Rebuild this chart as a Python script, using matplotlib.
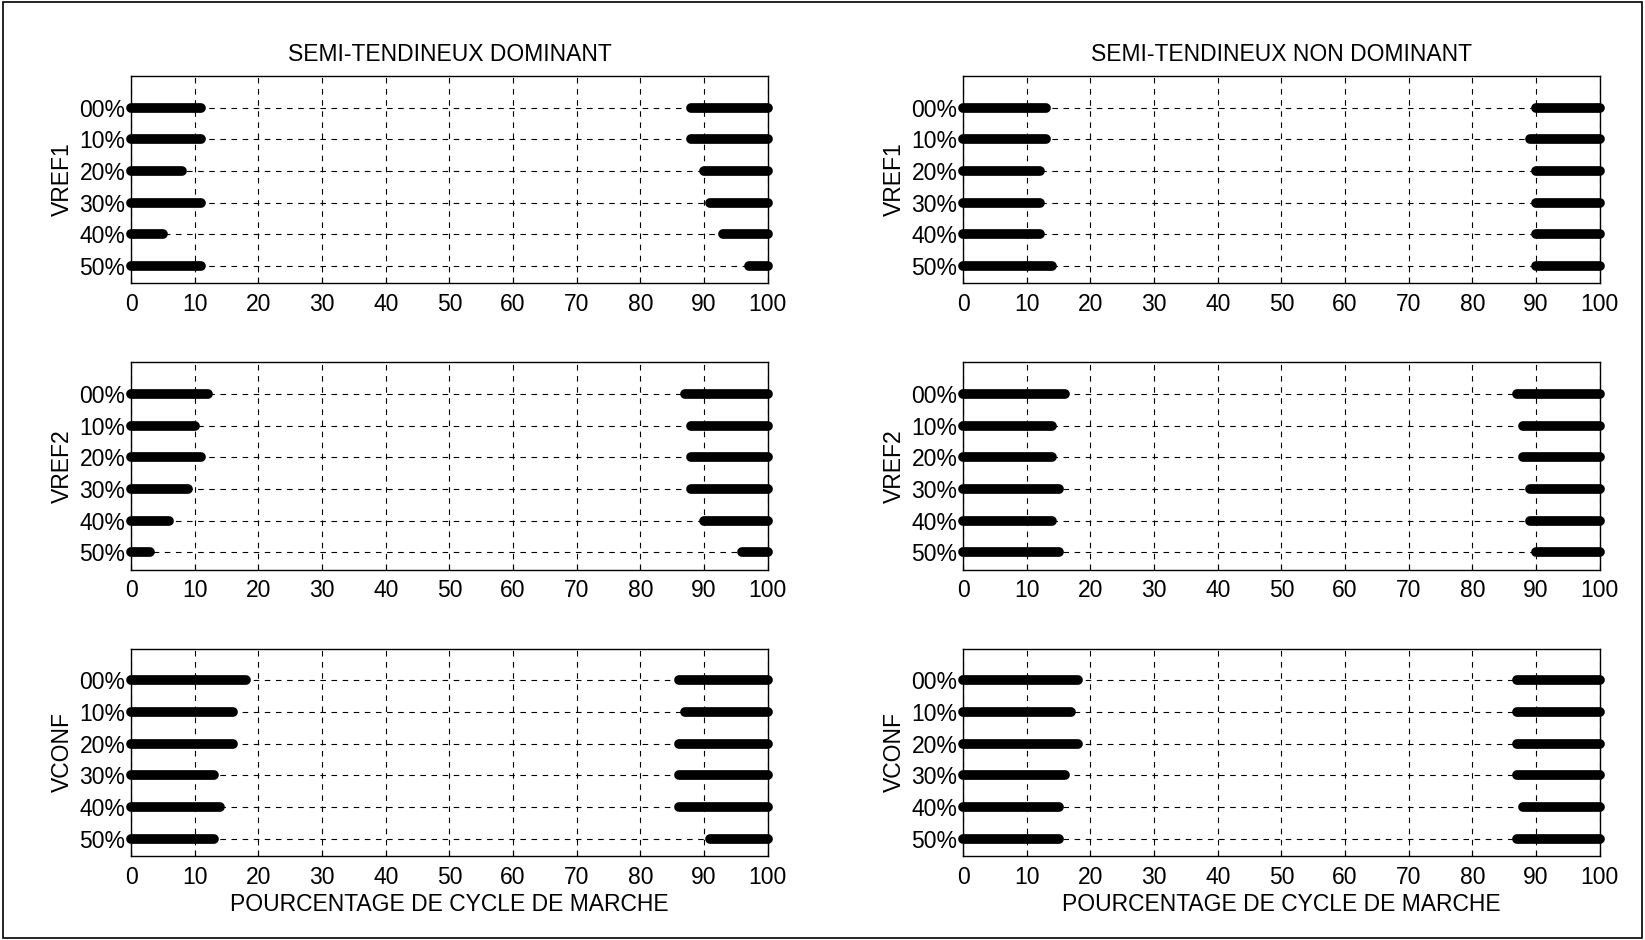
import numpy as np
import matplotlib.pyplot as plt
from matplotlib.patches import Rectangle

plt.rcParams['font.family'] = ['Liberation Sans', 'DejaVu Sans']

# Row labels (top to bottom) and panel names
levels = ['00%', '10%', '20%', '30%', '40%', '50%']
conditions = ['VREF1', 'VREF2', 'VCONF']
muscles = ['SEMI-TENDINEUX DOMINANT', 'SEMI-TENDINEUX NON DOMINANT']

# End of first active period (start at 0) for each row
dom_end = {
    'VREF1': [11, 11, 8, 11, 5, 11],
    'VREF2': [12, 10, 11, 9, 6, 3],
    'VCONF': [18, 16, 16, 13, 14, 13],
}
# Start of second active period (ends at 100)
dom_start = {
    'VREF1': [88, 88, 90, 91, 93, 97],
    'VREF2': [87, 88, 88, 88, 90, 96],
    'VCONF': [86, 87, 86, 86, 86, 91],
}
nd_end = {
    'VREF1': [13, 13, 12, 12, 12, 14],
    'VREF2': [16, 14, 14, 15, 14, 15],
    'VCONF': [18, 17, 18, 16, 15, 15],
}
nd_start = {
    'VREF1': [90, 89, 90, 90, 90, 90],
    'VREF2': [87, 88, 88, 89, 89, 90],
    'VCONF': [87, 87, 87, 87, 88, 87],
}

fig = plt.figure(figsize=(16.45, 9.4), dpi=100)
fig.patches.append(Rectangle((0.002, 0.002), 0.996, 0.996, transform=fig.transFigure,
                             fill=False, edgecolor='black', linewidth=1.2))

lefts = [0.0797, 0.5855]
width = 0.387
bottoms = [0.6987, 0.394, 0.0893]
height = 0.2205
fs = 16.5

ypos = np.arange(len(levels), 0, -1)

for c, (ends, starts) in enumerate([(dom_end, dom_start), (nd_end, nd_start)]):
    for r, cond in enumerate(conditions):
        ax = fig.add_axes([lefts[c], bottoms[r], width, height])
        for y, e, s in zip(ypos, ends[cond], starts[cond]):
            ax.plot([0, e], [y, y], color='black', lw=7, solid_capstyle='round',
                    clip_on=False, zorder=3)
            ax.plot([s, 100], [y, y], color='black', lw=7, solid_capstyle='round',
                    clip_on=False, zorder=3)
        ax.set_xlim(0, 100)
        ax.set_ylim(0.45, 7)
        ax.set_xticks(np.arange(0, 101, 10))
        ax.set_yticks(ypos)
        ax.set_yticklabels(levels)
        ax.grid(True, color='black', linestyle=(0, (5, 5)), linewidth=0.8)
        ax.tick_params(direction='in', length=4, labelsize=fs, pad=4)
        ax.tick_params(axis='x', pad=7)
        ax.set_ylabel(cond, fontsize=fs, labelpad=4)
        for sp in ax.spines.values():
            sp.set_linewidth(1.0)
        if r == 0:
            ax.set_title(muscles[c], fontsize=fs, pad=11)
        if r == 2:
            ax.set_xlabel('POURCENTAGE DE CYCLE DE MARCHE', fontsize=fs, labelpad=3)

fig.savefig('out.png', dpi=100)
